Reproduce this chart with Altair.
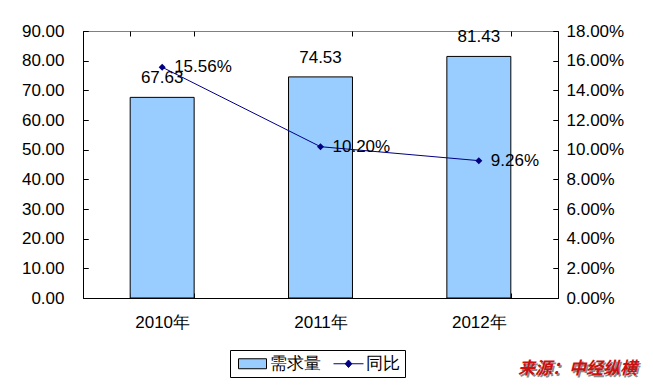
import altair as alt
import pandas as pd

years = ["2010年", "2011年", "2012年"]
demand = [67.63, 74.53, 81.43]
yoy = [0.1556, 0.1020, 0.0926]
series_names = ["需求量", "同比"]
left_ticks = [0, 10, 20, 30, 40, 50, 60, 70, 80, 90]
right_ticks = [0, 0.02, 0.04, 0.06, 0.08, 0.10, 0.12, 0.14, 0.16, 0.18]
source_note = "来源：中经纵横"

FONT = "Liberation Sans"
BAR_FILL = "#99CCFF"
NAVY = "#000080"
W, H = 475, 267

df = pd.DataFrame({"year": years, "demand": demand, "yoy": yoy})
leg_df = pd.DataFrame({"series": series_names})
note_df = pd.DataFrame({"t": [source_note]})

x_enc = alt.X(
    "year:N", sort=years, title=None,
    scale=alt.Scale(paddingInner=0.596, paddingOuter=0.298),
    axis=alt.Axis(labelAngle=0, tickBand="extent", grid=True, labelPadding=16),
)

base = alt.Chart(df).encode(x=x_enc)

left_axis = alt.Axis(orient="left", values=left_ticks, format=".2f", grid=True,
                     labelPadding=19, labelOverlap=False)
right_axis = alt.Axis(orient="right", values=right_ticks, format=".2%", grid=True,
                      labelPadding=8, labelOverlap=False)

bars = base.mark_bar(fill=BAR_FILL, stroke="black", strokeWidth=1).encode(
    y=alt.Y("demand:Q", title=None, scale=alt.Scale(domain=[0, 90], nice=False), axis=left_axis)
)
bar_text = base.mark_text(baseline="bottom", dy=-10, fontSize=17, font=FONT, color="black").encode(
    y=alt.Y("demand:Q", title=None, axis=left_axis),
    text=alt.Text("demand:Q", format=".2f"),
)
left_layer = alt.layer(bars, bar_text)

line = base.mark_line(color=NAVY, strokeWidth=1,
                      point=alt.OverlayMarkDef(shape="diamond", size=49, filled=True, color=NAVY)).encode(
    y=alt.Y("yoy:Q", title=None, scale=alt.Scale(domain=[0, 0.18], nice=False), axis=right_axis)
)
line_text = base.mark_text(align="left", baseline="middle", dx=12, dy=0, fontSize=17,
                           font=FONT, color="black").encode(
    y=alt.Y("yoy:Q", title=None, axis=right_axis),
    text=alt.Text("yoy:Q", format=".2%"),
)
right_layer = alt.layer(line, line_text)

rect_path = "M-2.8,-1H2.8V1H-2.8Z"
line_path = "M-3,0H3M-0.66,0L0,-0.75L0.66,0L0,0.75Z"
leg = alt.Legend(title=None, orient="none", legendX=147, legendY=319, direction="horizontal",
                 symbolSize=100, symbolOffset=9, symbolStrokeWidth=1, symbolOpacity=1,
                 labelOffset=9, columnPadding=10, padding=5, strokeColor="black",
                 fillColor="white", labelFontSize=17, labelFont=FONT, labelColor="black")
legend_layer = alt.Chart(leg_df).mark_point(opacity=0, filled=True).encode(
    shape=alt.Shape("series:N", sort=series_names,
                    scale=alt.Scale(domain=series_names, range=[rect_path, line_path]), legend=leg),
    fill=alt.Fill("series:N", sort=series_names,
                  scale=alt.Scale(domain=series_names, range=[BAR_FILL, NAVY]), legend=leg),
    stroke=alt.Stroke("series:N", sort=series_names,
                      scale=alt.Scale(domain=series_names, range=["black", NAVY]), legend=leg),
)

note_shadow = alt.Chart(note_df).mark_text(align="right", baseline="middle", fontSize=17,
                                           font="Noto Sans CJK SC", fontWeight="bold",
                                           fontStyle="italic", color="#8a8a8a").encode(
    text="t:N", x=alt.value(555.5), y=alt.value(339.5))
note = alt.Chart(note_df).mark_text(align="right", baseline="middle", fontSize=17,
                                    font="Noto Sans CJK SC", fontWeight="bold",
                                    fontStyle="italic", color="#CC1010").encode(
    text="t:N", x=alt.value(554), y=alt.value(338))

chart = alt.layer(left_layer, right_layer, legend_layer, note_shadow, note).resolve_scale(
    y="independent"
).properties(
    width=W, height=H,
    padding={"left": 75, "top": 23, "right": 87, "bottom": 83},
    autosize=alt.AutoSizeParams(type="none"),
    background="white",
).configure_view(
    stroke="#808080", strokeWidth=1
).configure_axis(
    labelOverlap=False, ticks=False, tickSize=0, grid=True, gridColor="black",
    gridWidth=1, gridOpacity=1, domainColor="black", domainWidth=1,
    labelFont=FONT, labelFontSize=17, labelColor="black",
).configure_axisX(
    gridDash=[5, H - 10, 5, 3000]
).configure_axisY(
    gridDash=[5, W - 10, 5, 3000]
)

chart.save("out.html", embed_options={"renderer": "svg", "actions": False})
